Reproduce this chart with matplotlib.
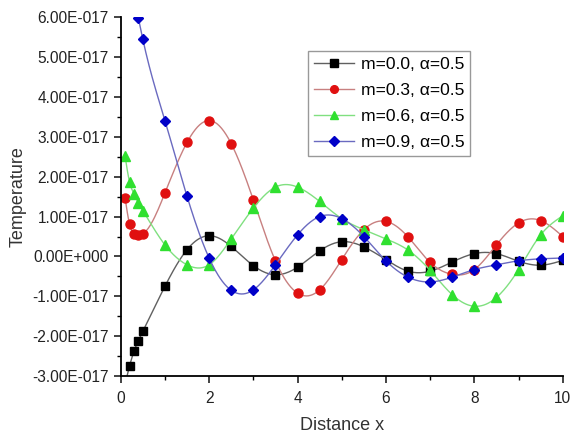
import numpy as np
import matplotlib
matplotlib.use("Agg")
import matplotlib.pyplot as plt
from matplotlib.ticker import MultipleLocator, FuncFormatter

plt.rcParams['font.family'] = ['Liberation Sans', 'DejaVu Sans']

# temperature profiles, values in units of 1e-17
x_m00 = [0.1, 0.2, 0.3, 0.4, 0.5, 1.0, 1.5, 2.0, 2.5, 3.0, 3.5, 4.0, 4.5, 5.0, 5.5,
         6.0, 6.5, 7.0, 7.5, 8.0, 8.5, 9.0, 9.5, 10.0]
t_m00 = [-3.2, -2.75, -2.38, -2.11, -1.88, -0.75, 0.17, 0.52, 0.25, -0.23, -0.46, -0.27,
         0.14, 0.37, 0.24, -0.08, -0.37, -0.37, -0.14, 0.07, 0.07, -0.12, -0.22, -0.1]

x_m03 = [0.1, 0.2, 0.3, 0.4, 0.5, 1.0, 1.5, 2.0, 2.5, 3.0, 3.5, 4.0, 4.5, 5.0, 5.5,
         6.0, 6.5, 7.0, 7.5, 8.0, 8.5, 9.0, 9.5, 10.0]
t_m03 = [1.46, 0.81, 0.57, 0.54, 0.57, 1.59, 2.86, 3.41, 2.83, 1.42, -0.11, -0.92,
         -0.84, -0.08, 0.67, 0.88, 0.49, -0.15, -0.45, -0.33, 0.29, 0.84, 0.9, 0.5]

x_m06 = [0.1, 0.2, 0.3, 0.4, 0.5, 1.0, 1.5, 2.0, 2.5, 3.0, 3.5, 4.0, 4.5, 5.0, 5.5,
         6.0, 6.5, 7.0, 7.5, 8.0, 8.5, 9.0, 9.5, 10.0]
t_m06 = [2.51, 1.87, 1.57, 1.34, 1.15, 0.29, -0.21, -0.21, 0.44, 1.21, 1.74, 1.74,
         1.38, 0.95, 0.67, 0.44, 0.16, -0.35, -0.96, -1.25, -1.03, -0.33, 0.54, 1.02]

x_m09 = [0.4, 0.5, 1.0, 1.5, 2.0, 2.5, 3.0, 3.5, 4.0, 4.5, 5.0, 5.5,
         6.0, 6.5, 7.0, 7.5, 8.0, 8.5, 9.0, 9.5, 10.0]
t_m09 = [5.98, 5.45, 3.41, 1.51, -0.04, -0.85, -0.84, -0.21, 0.54, 1.0, 0.95, 0.5,
         -0.11, -0.52, -0.64, -0.52, -0.33, -0.21, -0.11, -0.06, -0.04]

labels = ['m=0.0, α=0.5', 'm=0.3, α=0.5', 'm=0.6, α=0.5', 'm=0.9, α=0.5']


def natural_spline(x, y, n=400):
    x = np.asarray(x, float)
    y = np.asarray(y, float)
    k = len(x)
    h = np.diff(x)
    A = np.zeros((k, k))
    b = np.zeros(k)
    A[0, 0] = A[-1, -1] = 1
    for i in range(1, k - 1):
        A[i, i - 1] = h[i - 1]
        A[i, i] = 2 * (h[i - 1] + h[i])
        A[i, i + 1] = h[i]
        b[i] = 3 * ((y[i + 1] - y[i]) / h[i] - (y[i] - y[i - 1]) / h[i - 1])
    c = np.linalg.solve(A, b)
    xs = np.linspace(x[0], x[-1], n)
    idx = np.clip(np.searchsorted(x, xs) - 1, 0, k - 2)
    dx = xs - x[idx]
    bb = (y[idx + 1] - y[idx]) / h[idx] - h[idx] * (2 * c[idx] + c[idx + 1]) / 3
    d = (c[idx + 1] - c[idx]) / (3 * h[idx])
    ys = y[idx] + bb * dx + c[idx] * dx ** 2 + d * dx ** 3
    return xs, ys


series = [
    (x_m00, t_m00, 's', '#000000', '#606060', 6),
    (x_m03, t_m03, 'o', '#e01010', '#c88080', 6.5),
    (x_m06, t_m06, '^', '#30e030', '#80e080', 7),
    (x_m09, t_m09, 'D', '#0000c8', '#6a6ac0', 5.5),
]

fig = plt.figure(figsize=(5.71, 4.37), dpi=100)
ax = fig.add_axes([0.2114, 0.1396, 0.7741, 0.8208])

for (xv, yv, mk, mc, lc, ms), lab in zip(series, labels):
    xs, ys = natural_spline(xv, np.array(yv) * 1e-17)
    ax.plot(xs, ys, color=lc, lw=1.0)
    ax.plot(xv, np.array(yv) * 1e-17, mk, color=mc, ms=ms, mec=mc)
    # legend proxy with line and marker
    ax.plot([], [], marker=mk, color=lc, mfc=mc, mec=mc, ms=ms * 0.85, lw=1.0, label=lab)

ax.set_xlim(0, 10)
ax.set_ylim(-3e-17, 6e-17)

ax.spines['top'].set_visible(False)
ax.spines['right'].set_visible(False)
ax.spines['left'].set_linewidth(1.3)
ax.spines['bottom'].set_linewidth(1.3)

ax.xaxis.set_major_locator(MultipleLocator(2))
ax.xaxis.set_minor_locator(MultipleLocator(1))
ax.yaxis.set_major_locator(MultipleLocator(1e-17))
ax.yaxis.set_minor_locator(MultipleLocator(0.5e-17))


def sci3(v, pos):
    if abs(v) < 1e-30:
        return '0.00E+000'
    s = '{:.2E}'.format(v)
    mant, ex = s.split('E')
    sign = ex[0]
    return '{}E{}{:03d}'.format(mant, sign, abs(int(ex)))


ax.yaxis.set_major_formatter(FuncFormatter(sci3))
ax.tick_params(which='major', direction='out', length=5, width=1.2, labelsize=11.2, colors='#222222')
ax.tick_params(which='minor', direction='out', length=3, width=1.0)
ax.tick_params(axis='x', pad=6)

ax.set_xlabel('Distance x', fontsize=13, color='#333333', labelpad=8)
ax.set_ylabel('Temperature', fontsize=13, color='#333333', labelpad=4)

# only the legend-proxy lines carry labels
handles, labs = ax.get_legend_handles_labels()
leg = ax.legend(handles, labs, loc='upper left', bbox_to_anchor=(0.424, 0.906),
                fontsize=12.6, frameon=True, fancybox=False, edgecolor='#808080',
                borderaxespad=0, handlelength=2.3, labelspacing=0.6,
                handletextpad=0.35, borderpad=0.35)
leg.get_frame().set_linewidth(1.0)

fig.savefig('out.png', dpi=100)
